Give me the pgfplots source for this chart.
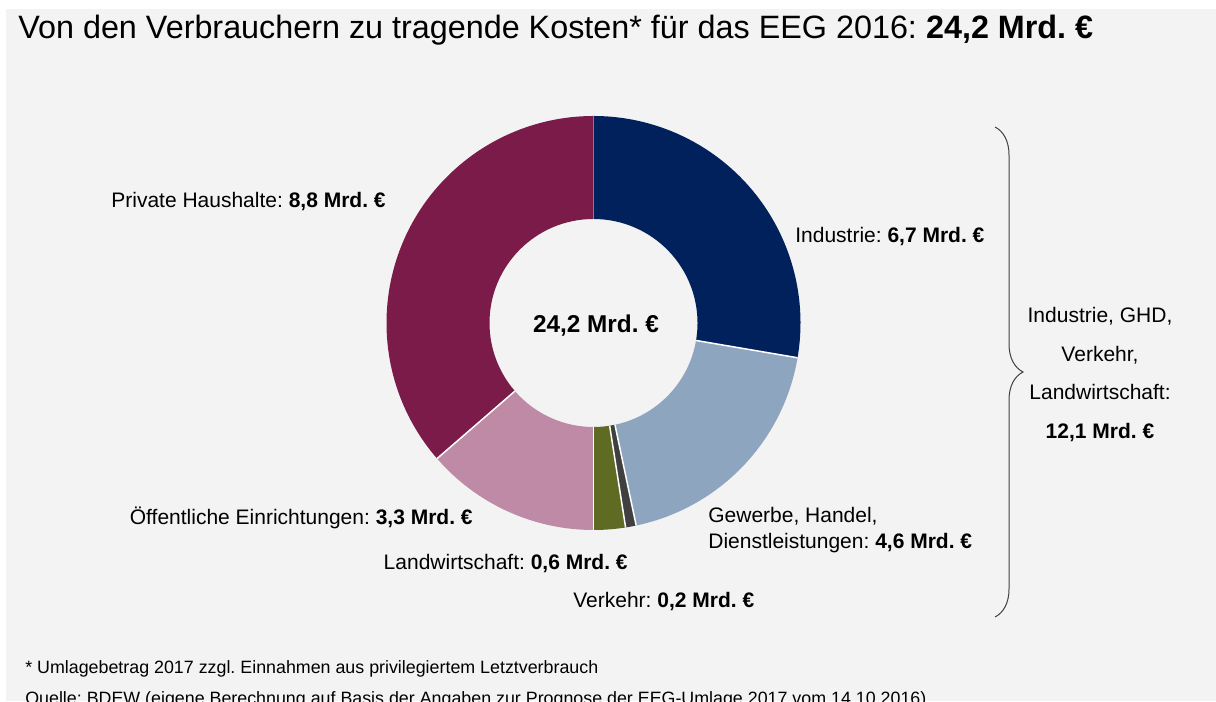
\documentclass[border=0pt]{standalone}
\usepackage{pgfplots}
\pgfplotsset{compat=1.18}
\usepackage{pgfplotstable}
\usetikzlibrary{decorations.pathreplacing}
\usepackage{fontspec}
\setmainfont{Liberation Sans}
\frenchspacing

\definecolor{bg}{HTML}{F3F3F3}
\definecolor{cInd}{HTML}{00215C}
\definecolor{cGHD}{HTML}{8EA5BF}
\definecolor{cVer}{HTML}{404040}
\definecolor{cLan}{HTML}{5F6A22}
\definecolor{cOef}{HTML}{BF8AA5}
\definecolor{cPri}{HTML}{7B1B49}

% costs in Mrd. EUR, clockwise from 12 o'clock
\pgfplotstableread{
name value color
Industrie 6.7 cInd
GHD 4.6 cGHD
Verkehr 0.2 cVer
Landwirtschaft 0.6 cLan
Oeffentlich 3.3 cOef
Privat 8.8 cPri
}\costs

\def\cx{593.5}\def\cy{378}\def\ro{207}\def\ri{104}\def\pxpt{0.6}
\pgfmathsetmacro\roPt{\ro*\pxpt}
\pgfmathsetmacro\riPt{\ri*\pxpt}

\def\total{0}
\pgfplotsforeachungrouped \i in {0,...,5}{%
  \pgfplotstablegetelem{\i}{value}\of\costs
  \pgfmathsetmacro\total{\total+\pgfplotsretval}%
}
\def\cum{0}
\pgfplotsforeachungrouped \i in {0,...,5}{%
  \pgfplotstablegetelem{\i}{value}\of\costs
  \pgfmathsetmacro\aA{90-360*\cum/\total}%
  \pgfmathsetmacro\cum{\cum+\pgfplotsretval}%
  \pgfmathsetmacro\aB{90-360*\cum/\total}%
  \pgfmathsetmacro\xo{\cx+\ro*cos(\aA)}%
  \pgfmathsetmacro\yo{\cy+\ro*sin(\aA)}%
  \pgfmathsetmacro\xi{\cx+\ri*cos(\aB)}%
  \pgfmathsetmacro\yi{\cy+\ri*sin(\aB)}%
  \pgfmathsetmacro\xs{\cx+\ri*cos(\aA)}%
  \pgfmathsetmacro\ys{\cy+\ri*sin(\aA)}%
  \expandafter\xdef\csname aA\i\endcsname{\aA}%
  \expandafter\xdef\csname aB\i\endcsname{\aB}%
  \expandafter\xdef\csname xo\i\endcsname{\xo}%
  \expandafter\xdef\csname yo\i\endcsname{\yo}%
  \expandafter\xdef\csname xi\i\endcsname{\xi}%
  \expandafter\xdef\csname yi\i\endcsname{\yi}%
  \expandafter\xdef\csname xs\i\endcsname{\xs}%
  \expandafter\xdef\csname ys\i\endcsname{\ys}%
  \pgfplotstablegetelem{\i}{color}\of\costs
  \expandafter\xdef\csname col\i\endcsname{\pgfplotsretval}%
}

\newcommand\lab{\fontsize{12.6}{15}\selectfont}

\begin{document}
\begin{tikzpicture}
\path[use as bounding box] (0,0) rectangle (729.6pt,420.6pt);
\clip (0,0) rectangle (729.6pt,420.6pt);
\begin{axis}[x=0.6pt,y=0.6pt,xmin=0,xmax=1216,ymin=0,ymax=701,
  hide axis, clip=false, anchor=south west, at={(0,0)}]
\fill[white] (axis cs:0,0) rectangle (axis cs:1216,701);
\fill[bg] (axis cs:6,0) rectangle (axis cs:1216,692);
% donut sectors
\pgfplotsforeachungrouped \i in {0,...,5}{%
  \edef\tmp{\noexpand\fill[fill=\csname col\i\endcsname]
    (axis cs:\csname xo\i\endcsname,\csname yo\i\endcsname)
    arc[start angle=\csname aA\i\endcsname, end angle=\csname aB\i\endcsname, radius=\roPt pt]
    -- (axis cs:\csname xi\i\endcsname,\csname yi\i\endcsname)
    arc[start angle=\csname aB\i\endcsname, end angle=\csname aA\i\endcsname, radius=\riPt pt]
    -- cycle;
    \noexpand\draw[white, line width=0.9pt]
    (axis cs:\csname xs\i\endcsname,\csname ys\i\endcsname) --
    (axis cs:\csname xo\i\endcsname,\csname yo\i\endcsname);}%
  \tmp
}
% title
\node[anchor=base west, inner sep=0, font=\fontsize{19.4}{22}\selectfont] at (axis cs:18,662)
  {Von den Verbrauchern zu tragende Kosten* für das EEG 2016: \textbf{24,2 Mrd. €}};
% labels
\node[anchor=east, inner sep=0, font=\lab] at (axis cs:386,499) {Private Haushalte: \textbf{8,8 Mrd. €}};
\node[anchor=west, inner sep=0, font=\lab] at (axis cs:795,464) {Industrie: \textbf{6,7 Mrd. €}};
\node[anchor=center, inner sep=0, font=\fontsize{14.6}{17}\selectfont\bfseries] at (axis cs:596,375) {24,2 Mrd. €};
\node[anchor=west, inner sep=0, align=left, font=\fontsize{12.6}{15.6}\selectfont] at (axis cs:708,171)
  {Gewerbe, Handel,\\Dienstleistungen: \textbf{4,6 Mrd. €}};
\node[anchor=east, inner sep=0, font=\lab] at (axis cs:473,183) {Öffentliche Einrichtungen: \textbf{3,3 Mrd. €}};
\node[anchor=east, inner sep=0, font=\lab] at (axis cs:628,137) {Landwirtschaft: \textbf{0,6 Mrd. €}};
\node[anchor=west, inner sep=0, font=\lab] at (axis cs:573,99) {Verkehr: \textbf{0,2 Mrd. €}};
% brace
\draw[decorate, decoration={brace, amplitude=16.8pt}, line width=0.6pt, black!75]
  (axis cs:995,574) -- (axis cs:995,84);
\node[align=center, inner sep=0, font=\fontsize{12.6}{23.1}\selectfont] at (axis cs:1100,326.5)
  {Industrie, GHD,\\Verkehr,\\Landwirtschaft:\\\textbf{12,1 Mrd. €}};
% footnotes
\node[anchor=base west, inner sep=0, font=\fontsize{10.7}{12}\selectfont] at (axis cs:25,28)
  {* Umlagebetrag 2017 zzgl. Einnahmen aus privilegiertem Letztverbrauch};
\node[anchor=base west, inner sep=0, font=\fontsize{10.7}{12}\selectfont] at (axis cs:25,-3)
  {Quelle: BDEW (eigene Berechnung auf Basis der Angaben zur Prognose der EEG-Umlage 2017 vom 14.10.2016)};
\end{axis}
\end{tikzpicture}
\end{document}
